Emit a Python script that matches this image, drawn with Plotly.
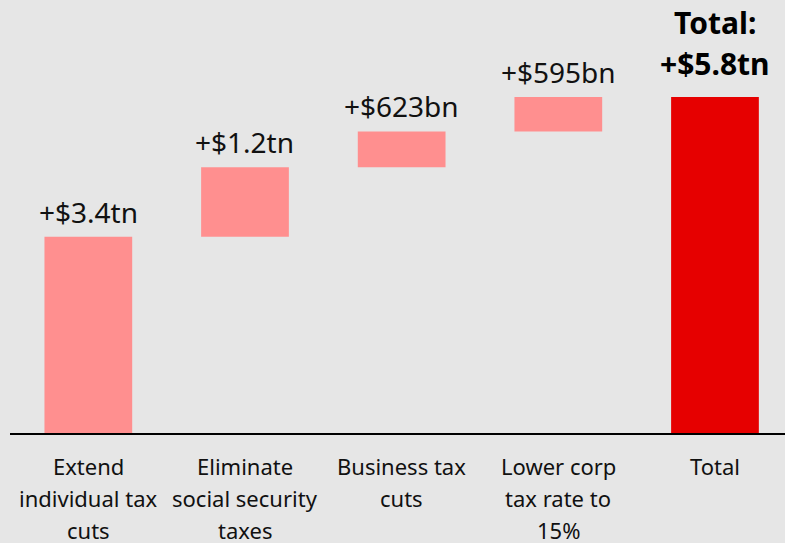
import plotly.graph_objects as go

# Cost of tax proposals, in billions of dollars
categories = ["Extend\nindividual tax\ncuts", "Eliminate\nsocial security\ntaxes",
              "Business tax\ncuts", "Lower corp\ntax rate to\n15%", "Total"]
values_bn = [3400, 1200, 623, 595]

total_bn = sum(values_bn)

FONT = "Noto Sans"
PINK = "#ff8f8f"
RED = "#e60000"
BG = "#e6e6e6"


def fmt(v):
    if v >= 1000:
        return f"+${v / 1000:.1f}tn"
    return f"+${v:.0f}bn"


fig = go.Figure()
fig.add_trace(go.Waterfall(
    x=list(range(len(categories))),
    y=values_bn + [0],
    measure=["relative"] * len(values_bn) + ["total"],
    increasing=dict(marker=dict(color=PINK, line=dict(width=0))),
    totals=dict(marker=dict(color=RED, line=dict(width=0))),
    connector=dict(visible=False),
    width=0.56,
    hoverinfo="skip",
))

# Value labels above each step
running = 0
for i, v in enumerate(values_bn):
    running += v
    fig.add_annotation(x=i, y=running, text=fmt(v), showarrow=False,
                       yanchor="middle", yshift=25,
                       font=dict(family=FONT, size=28, color="#111111"))

fig.add_annotation(x=len(values_bn), y=total_bn, text="<b>Total:</b>", showarrow=False,
                   yanchor="middle", yshift=75,
                   font=dict(family=FONT, size=30, color="#000000"))
fig.add_annotation(x=len(values_bn), y=total_bn, text="<b>" + fmt(total_bn) + "</b>",
                   showarrow=False, yanchor="middle", yshift=34,
                   font=dict(family=FONT, size=30, color="#000000"))

# Category labels, one line at a time below the axis
for i, label in enumerate(categories):
    for j, line in enumerate(label.split("\n")):
        fig.add_annotation(x=i, y=0, yref="y", text=line, showarrow=False,
                           yanchor="middle", yshift=-33 - 32 * j,
                           font=dict(family=FONT, size=22, color="#111111"))

fig.update_layout(
    width=785, height=543,
    margin=dict(l=10, r=0, t=0, b=110),
    paper_bgcolor=BG, plot_bgcolor=BG,
    showlegend=False,
    xaxis=dict(range=[-0.5, 4.447], showticklabels=False, showgrid=False,
               zeroline=False, showline=True, linecolor="#000000", linewidth=2,
               ticks=""),
    yaxis=dict(range=[0, 7498], visible=False, showgrid=False, zeroline=False),
)

fig.write_html("out.html")
